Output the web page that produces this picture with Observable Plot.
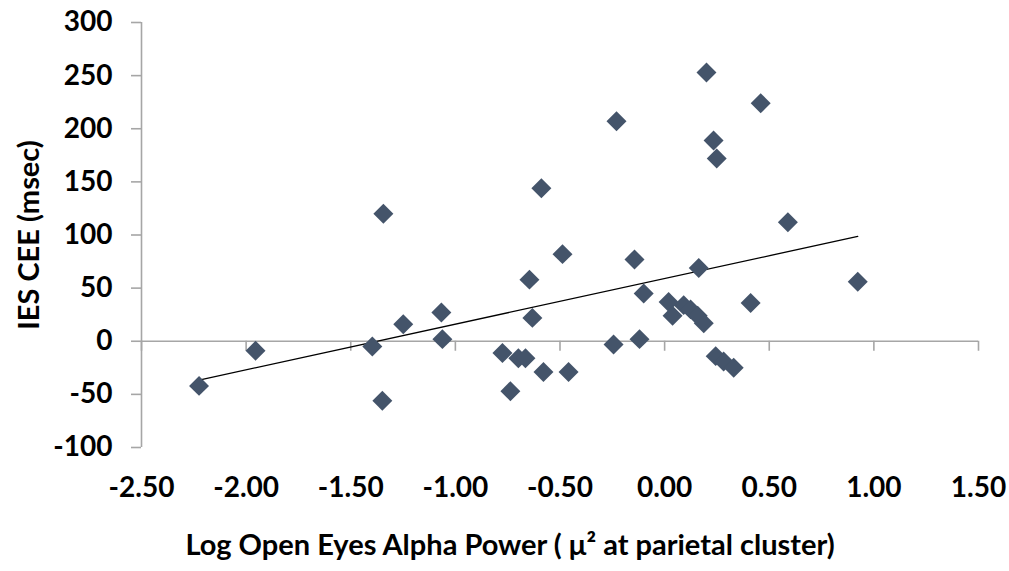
<!DOCTYPE html>
<html><head><meta charset="utf-8">
<script src="https://cdn.jsdelivr.net/npm/d3@7"></script>
<script src="https://cdn.jsdelivr.net/npm/@observablehq/plot@0.6"></script>
<style>body{margin:0;background:#fff;}</style>
</head><body><div id="chart"></div>
<script>
const alphaPower = [-2.225, -1.955, -1.397, -1.344, -1.349, -1.249, -1.067, -1.062, -0.775, -0.737,
  -0.699, -0.665, -0.646, -0.632, -0.589, -0.579, -0.488, -0.459, -0.244, -0.230,
  -0.144, -0.120, -0.100, 0.019, 0.038, 0.091, 0.124, 0.158, 0.187, 0.163,
  0.200, 0.234, 0.249, 0.244, 0.282, 0.330, 0.411, 0.459, 0.589, 0.923];
const iesCee = [-42, -9, -5, 120, -56, 16, 27, 2, -11, -47,
  -16, -16, 58, 22, 144, -29, 82, -29, -3, 207,
  77, 2, 45, 37, 24, 34, 30, 24, 17, 69,
  253, 189, 172, -14, -19, -25, 36, 224, 112, 56];
const xTicks = [-2.5, -2, -1.5, -1, -0.5, 0, 0.5, 1, 1.5];
const yTicks = [-100, -50, 0, 50, 100, 150, 200, 250, 300];
const xLabel = "Log Open Eyes Alpha Power ( μ² at parietal cluster)";
const yLabel = "IES CEE (msec)";

const data = alphaPower.map((x, i) => ({x, y: iesCee[i]}));
const axisGray = "#a6a6a6";
const chart = Plot.plot({
  width: 1009, height: 571,
  marginLeft: 141, marginRight: 31, marginTop: 22, marginBottom: 124,
  style: {fontFamily: "Lato, 'Open Sans', sans-serif", fontWeight: "bold", fontSize: "28px", color: "#000", background: "#fff"},
  x: {domain: [-2.5, 1.5]},
  y: {domain: [-100, 300]},
  marks: [
    Plot.ruleY([0], {stroke: axisGray, strokeWidth: 1.6}),
    Plot.ruleX([-2.5], {stroke: axisGray, strokeWidth: 1.6}),
    Plot.ruleX(xTicks, {x: d => d, y1: 0, y2: 0, insetBottom: -10, stroke: axisGray, strokeWidth: 1.6}),
    Plot.axisY({ticks: yTicks, tickSize: 10, tickPadding: 19, stroke: axisGray, strokeWidth: 1.6, fill: "#000", fontSize: 28, tickFormat: d => String(d), label: null}),
    Plot.axisX({ticks: xTicks, tickSize: 0, tickPadding: 30, fill: "#000", fontSize: 28, tickFormat: d => d.toFixed(2), label: null}),
    Plot.linearRegressionY(data, {x: "x", y: "y", ci: 0, stroke: "#000", strokeWidth: 1.3}),
    Plot.dot(data, {x: "x", y: "y", symbol: "diamond2", r: 9, fill: "#44546a", stroke: "none"}),
    Plot.text([yLabel], {frameAnchor: "left", textAnchor: "middle", lineAnchor: "middle", rotate: -90, dx: -112, fill: "#000", fontSize: 29}),
    Plot.text([xLabel], {frameAnchor: "bottom", textAnchor: "middle", lineAnchor: "middle", dx: -50, dy: 98, fill: "#000", fontSize: 29})
  ]
});
document.getElementById("chart").append(chart);
</script>
</body></html>
